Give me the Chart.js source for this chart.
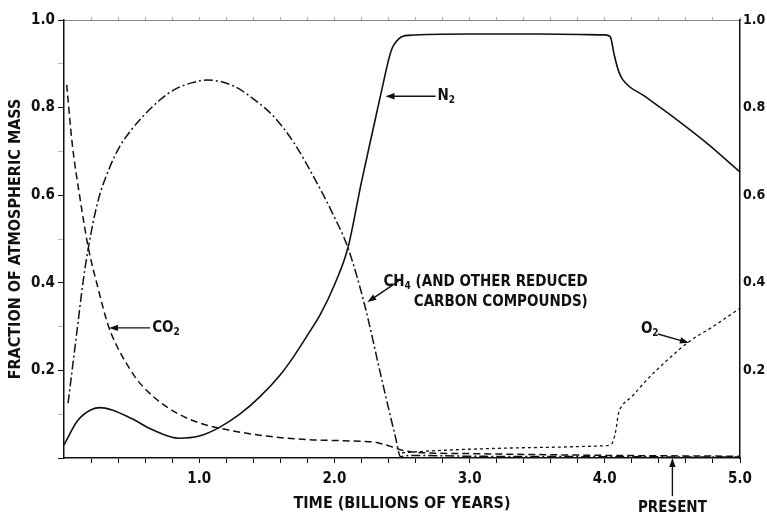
<!DOCTYPE html>
<html><head><meta charset="utf-8">
<script src="https://cdn.jsdelivr.net/npm/chart.js@4/dist/chart.umd.min.js"></script>
<style>html,body{margin:0;padding:0;background:#fff}canvas{display:block}</style>
</head><body>
<canvas id="c" width="767" height="517"></canvas>
<script>
// ---- data ----
const n2Time = [0.0,0.1,0.2,0.27,0.35,0.5,0.65,0.85,1.0,1.15,1.3,1.45,1.6,1.7,1.8,1.9,2.0,2.1,2.2,2.3,2.35,2.42,2.48,2.55,3.0,3.5,4.0,4.04,4.07,4.1,4.13,4.3,4.5,4.75,5.0];
const n2Frac = [0.03,0.085,0.11,0.115,0.11,0.09,0.065,0.045,0.05,0.07,0.1,0.14,0.19,0.232,0.28,0.33,0.395,0.48,0.63,0.77,0.84,0.93,0.958,0.965,0.968,0.968,0.966,0.962,0.92,0.885,0.865,0.825,0.78,0.72,0.653];

const ch4Time = [0.03,0.06,0.1,0.14,0.18,0.25,0.34,0.41,0.5,0.59,0.7,0.81,0.95,1.06,1.25,1.4,1.55,1.7,1.85,2.0,2.1,2.22,2.35,2.45,2.49,2.55,3.0,4.0,5.0];
const ch4Frac = [0.125,0.2,0.3,0.4,0.48,0.585,0.665,0.71,0.75,0.782,0.815,0.84,0.857,0.863,0.85,0.82,0.78,0.72,0.64,0.55,0.48,0.354,0.18,0.05,0.003,0.006,0.004,0.003,0.002];

const co2Time = [0.02,0.06,0.12,0.18,0.25,0.33,0.4,0.45,0.53,0.6,0.7,0.85,1.0,1.2,1.5,1.8,2.0,2.2,2.3,2.4,2.5,2.6,3.0,4.0,5.0];
const co2Frac = [0.852,0.72,0.59,0.48,0.39,0.3,0.25,0.222,0.183,0.158,0.13,0.1,0.08,0.065,0.05,0.042,0.04,0.038,0.036,0.028,0.018,0.013,0.01,0.006,0.004];

const o2Time = [2.5,2.7,3.0,3.5,4.0,4.05,4.08,4.1,4.13,4.2,4.3,4.45,4.62,4.8,5.0];
const o2Frac = [0.012,0.016,0.02,0.024,0.028,0.032,0.06,0.1,0.12,0.14,0.175,0.22,0.265,0.3,0.342];

const xTickValues = [1,2,3,4,5];
const xTickLabels = ['1.0','2.0','3.0','4.0','5.0'];
const yTickValues = [0.2,0.4,0.6,0.8,1.0];
const yTickLabels = ['0.2','0.4','0.6','0.8','1.0'];

const FONT = '"Liberation Sans Narrow","DejaVu Sans Condensed","Roboto Condensed","Liberation Sans",sans-serif';
const INK = '#111';

function pts(xs, ys){ return xs.map((x,i)=>({x:x, y:ys[i]})); }
function labelFor(vals, labels, v){
  const i = vals.findIndex(t => Math.abs(t - v) < 1e-6);
  return i >= 0 ? labels[i] : '';
}

// annotation layout (data coordinates)
const notes = [
  {parts:[['N'],['2',1]], tx:2.763, ty:0.826, align:'left', arrow:[2.748,0.826,2.378,0.826]},
  {parts:[['CO'],['2',1]], tx:0.652, ty:0.297, align:'left', arrow:[0.637,0.297,0.333,0.297]},
  {parts:[['CH'],['4',1],[' (AND OTHER REDUCED']], tx:3.874, ty:0.402, align:'right', arrow:[2.474,0.404,2.244,0.356]},
  {parts:[['CARBON COMPOUNDS)']], tx:3.874, ty:0.356, align:'right'},
  {parts:[['O'],['2',1]], tx:4.267, ty:0.294, align:'left', arrow:[4.393,0.283,4.622,0.263]},
  {parts:[['PRESENT']], tx:4.5, ty:-0.114, align:'center', arrow:[4.5,-0.087,4.5,0.0]}
];

const annot = {
  id:'annot',
  afterDatasetsDraw(chart){
    const {ctx} = chart; const sx = chart.scales.x, sy = chart.scales.y;
    ctx.save();
    ctx.fillStyle = INK; ctx.strokeStyle = INK;
    notes.forEach(n=>{
      const big = 'bold 15px '+FONT, small = 'bold 10px '+FONT;
      let w = 0;
      n.parts.forEach(p=>{ ctx.font = p[1]?small:big; w += ctx.measureText(p[0]).width; });
      let x = sx.getPixelForValue(n.tx); const y = sy.getPixelForValue(n.ty);
      if(n.align==='right') x -= w; else if(n.align==='center') x -= w/2;
      ctx.textBaseline = 'middle'; ctx.textAlign='left';
      n.parts.forEach(p=>{
        ctx.font = p[1]?small:big;
        ctx.fillText(p[0], x, p[1]? y+4 : y);
        x += ctx.measureText(p[0]).width;
      });
      if(n.arrow){
        const x1=sx.getPixelForValue(n.arrow[0]), y1=sy.getPixelForValue(n.arrow[1]);
        const x2=sx.getPixelForValue(n.arrow[2]), y2=sy.getPixelForValue(n.arrow[3]);
        const a = Math.atan2(y2-y1, x2-x1), L=9, H=3.2;
        ctx.lineWidth = 1.4; ctx.setLineDash([]);
        ctx.beginPath(); ctx.moveTo(x1,y1); ctx.lineTo(x2 - Math.cos(a)*L*0.6, y2 - Math.sin(a)*L*0.6); ctx.stroke();
        ctx.beginPath();
        ctx.moveTo(x2,y2);
        ctx.lineTo(x2 - Math.cos(a)*L - Math.sin(a)*H, y2 - Math.sin(a)*L + Math.cos(a)*H);
        ctx.lineTo(x2 - Math.cos(a)*L + Math.sin(a)*H, y2 - Math.sin(a)*L - Math.cos(a)*H);
        ctx.closePath(); ctx.fill();
      }
    });
    ctx.restore();
  }
};

const common = {borderColor:INK, borderWidth:1.5, pointRadius:0, fill:false, cubicInterpolationMode:'monotone', clip:false};

new Chart(document.getElementById('c'), {
  type:'line',
  data:{datasets:[
    Object.assign({label:'N2', data:pts(n2Time,n2Frac)}, common, {borderWidth:1.6}),
    Object.assign({label:'CO2', data:pts(co2Time,co2Frac), borderDash:[7,4]}, common),
    Object.assign({label:'CH4', data:pts(ch4Time,ch4Frac), borderDash:[9,3,2,3]}, common),
    Object.assign({label:'O2', data:pts(o2Time,o2Frac), borderDash:[3,3]}, common, {borderWidth:1.3})
  ]},
  options:{
    responsive:false, devicePixelRatio:1, animation:false,
    layout:{padding:0},
    plugins:{legend:{display:false}, tooltip:{enabled:false}},
    scales:{
      x:{type:'linear', position:'bottom', min:0, max:5,
        afterFit(s){ s.height = 59; },
        afterBuildTicks(s){ const t=[]; for(let i=1;i<=25;i++) t.push({value:+(i*0.2).toFixed(1)}); s.ticks=t; },
        ticks:{autoSkip:false, maxRotation:0, padding:7, color:INK, font:{family:FONT, size:15, weight:'bold'},
          callback:(v)=>labelFor(xTickValues, xTickLabels, v)},
        grid:{drawOnChartArea:false, tickLength:5, color:INK, tickWidth:1},
        border:{color:INK, width:1.5},
        title:{display:true, text:'TIME (BILLIONS OF YEARS)', color:INK, font:{family:FONT, size:16, weight:'bold'}, padding:{top:0,bottom:4}}
      },
      xTop:{type:'linear', position:'top', min:0, max:5,
        afterFit(s){ s.height = 20; },
        afterBuildTicks(s){ const t=[]; for(let i=1;i<=25;i++) t.push({value:+(i*0.2).toFixed(1)}); s.ticks=t; },
        ticks:{display:false},
        grid:{drawOnChartArea:false, tickLength:3, color:'#aaa'},
        border:{color:'#888', width:1, dash:[3,4]}
      },
      y:{type:'linear', position:'left', min:0, max:1,
        afterFit(s){ s.width = 64; },
        afterBuildTicks(s){ const t=[]; for(let i=0;i<=10;i++) t.push({value:+(i*0.1).toFixed(1)}); s.ticks=t; },
        ticks:{autoSkip:false, padding:3, color:INK, font:{family:FONT, size:15, weight:'bold'},
          callback:(v)=>labelFor(yTickValues, yTickLabels, v)},
        grid:{drawOnChartArea:false, tickLength:6,
          tickColor:(c)=> (Math.round(c.tick.value*10)%2===0 ? INK : '#bbb')},
        border:{color:INK, width:1.5},
        title:{display:true, text:'FRACTION OF ATMOSPHERIC MASS', color:INK, font:{family:FONT, size:16, weight:'bold'}, padding:{top:6,bottom:0}}
      },
      y2:{type:'linear', position:'right', min:0, max:1,
        afterFit(s){ s.width = 27; },
        afterBuildTicks(s){ s.ticks = yTickValues.map(v=>({value:v})); },
        ticks:{autoSkip:false, padding:3, color:INK, font:{family:FONT, size:14, weight:'bold'},
          callback:(v)=>labelFor(yTickValues, yTickLabels, v)},
        grid:{drawOnChartArea:false, drawTicks:false, tickLength:0},
        border:{color:INK, width:1.5}
      }
    }
  },
  plugins:[annot]
});
</script>
</body></html>
